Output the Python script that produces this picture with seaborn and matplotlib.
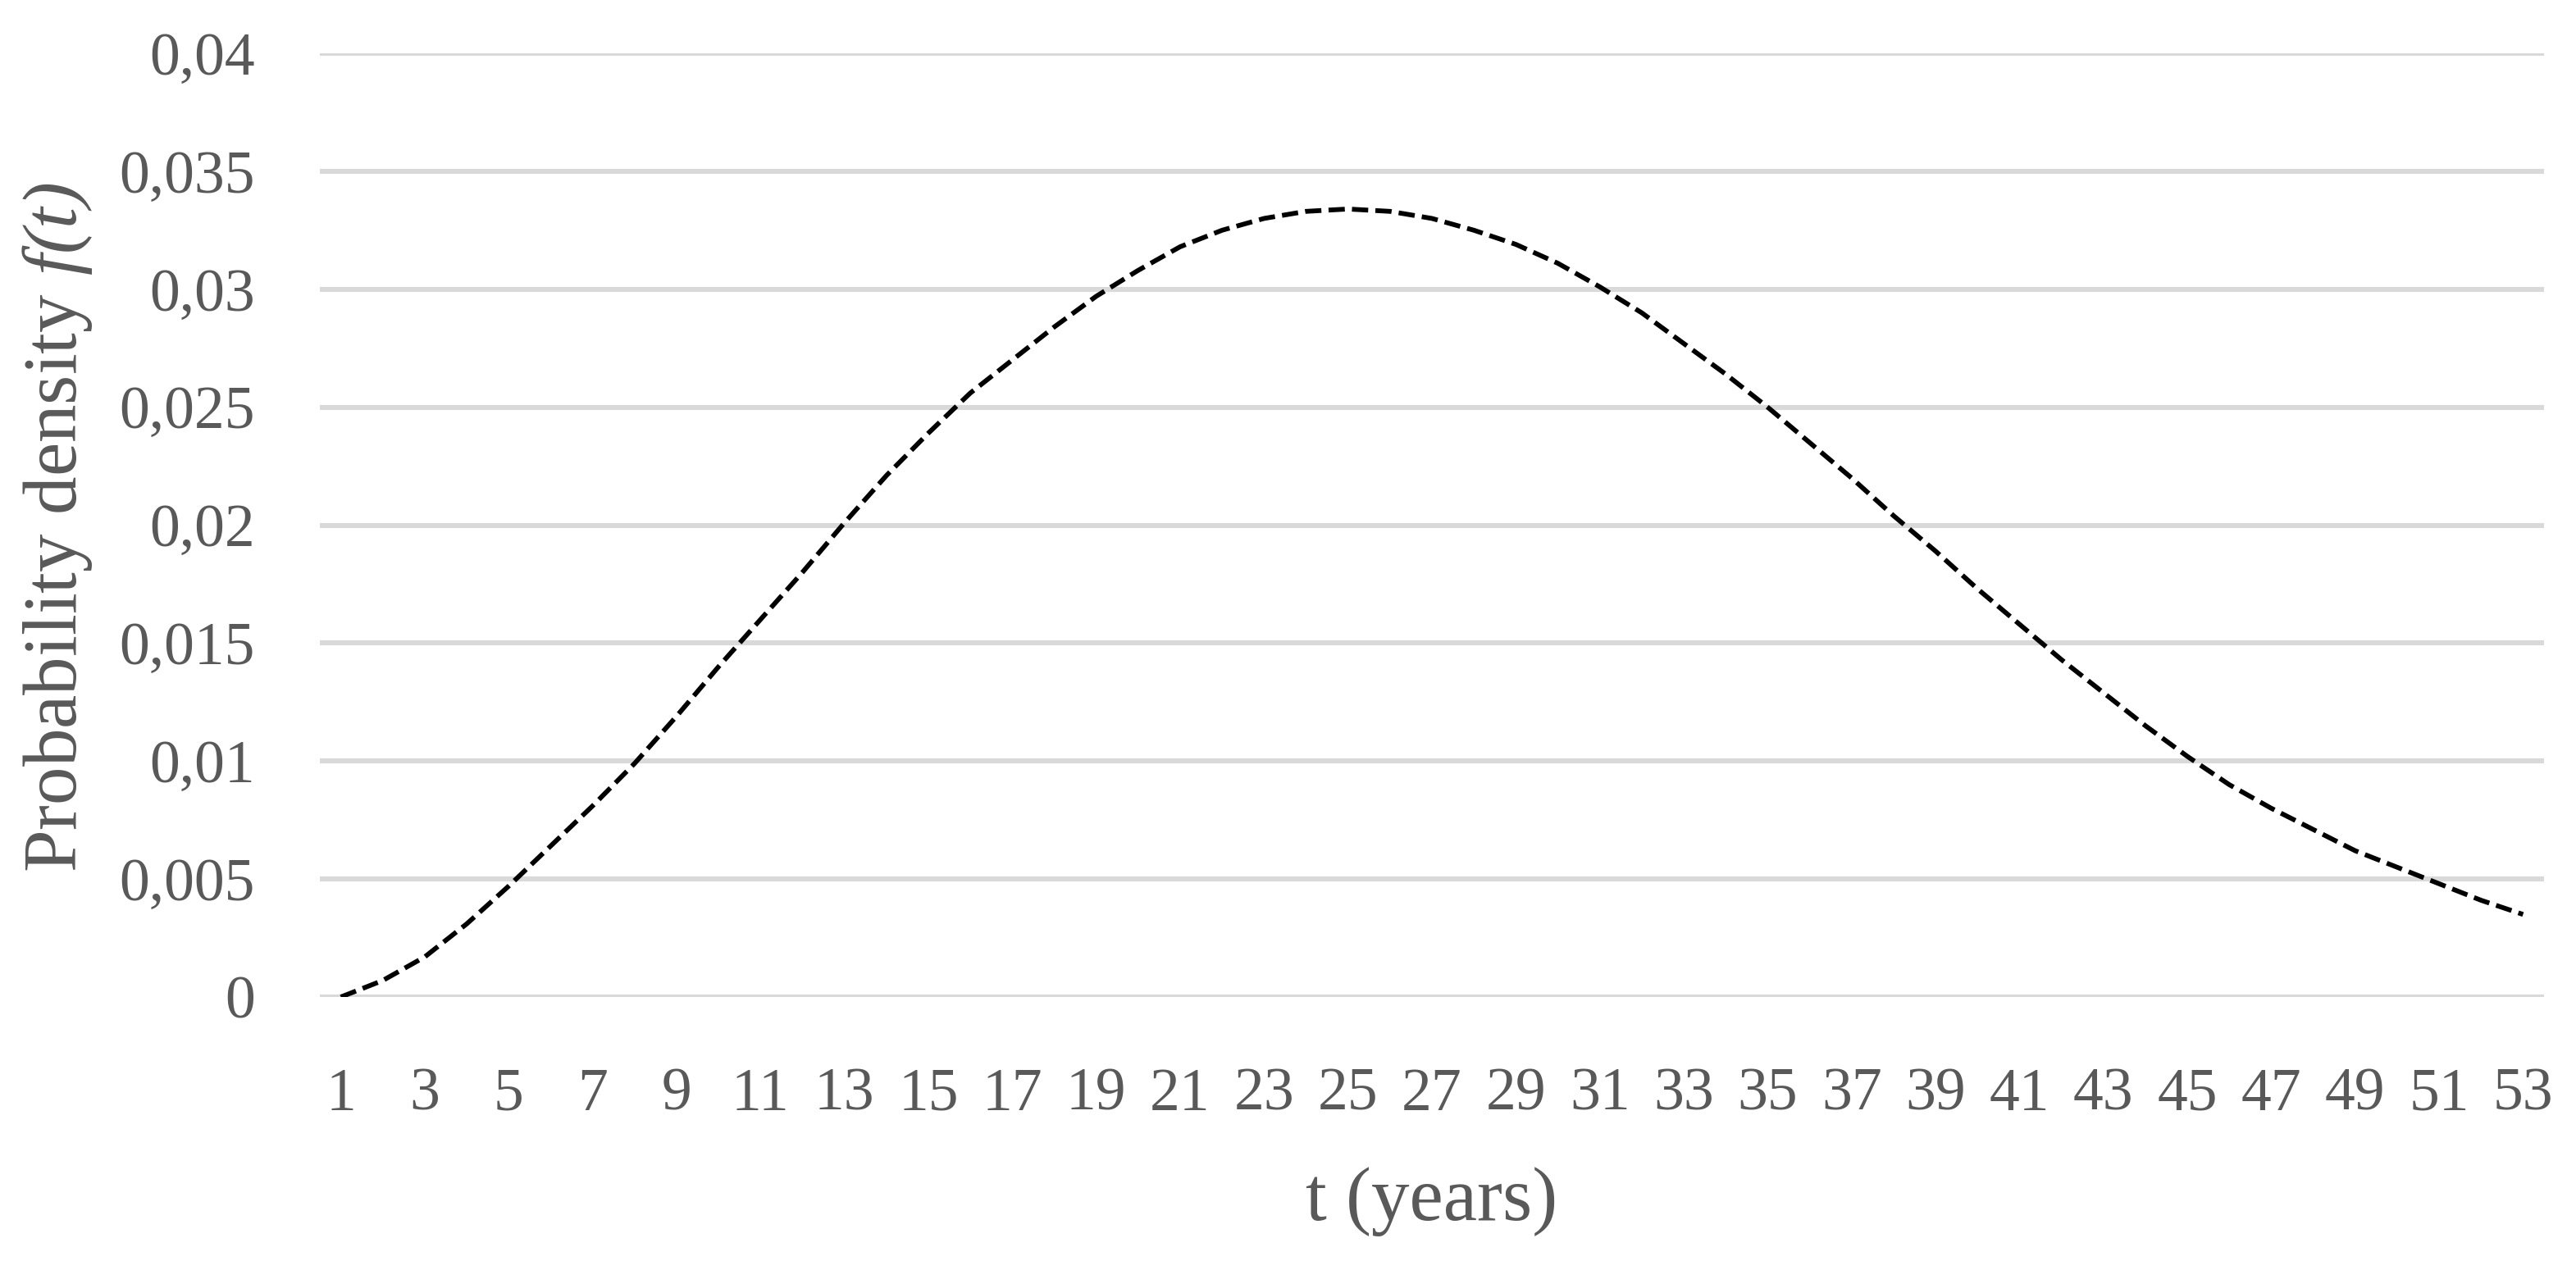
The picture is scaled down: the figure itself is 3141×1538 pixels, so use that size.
import matplotlib
matplotlib.use("Agg")
import matplotlib.pyplot as plt
import seaborn as sns
import pandas as pd
from matplotlib.ticker import FuncFormatter, FixedLocator

t_years = list(range(1, 54))
density = [
    0.0000, 0.0007, 0.0017, 0.0031, 0.0047, 0.0064, 0.0081, 0.0099, 0.0119, 0.0140,
    0.0160, 0.0180, 0.0201, 0.0221, 0.0239, 0.0256, 0.0270, 0.0284, 0.0297, 0.0308,
    0.0318, 0.0325, 0.0330, 0.0333, 0.0334, 0.0333, 0.0330, 0.0325, 0.0319, 0.0311,
    0.0301, 0.0290, 0.0277, 0.0264, 0.0250, 0.0235, 0.0220, 0.0204, 0.0189, 0.0173,
    0.0158, 0.0143, 0.0129, 0.0115, 0.0102, 0.0090, 0.0080, 0.0071, 0.0062, 0.0055,
    0.0048, 0.0041, 0.0035,
]
y_ticks = [0, 0.005, 0.01, 0.015, 0.02, 0.025, 0.03, 0.035, 0.04]
x_tick_labels = list(range(1, 54, 2))

df = pd.DataFrame({"t": t_years, "f": density})

sns.set_theme(style="white")
plt.rcParams["font.family"] = ["Liberation Serif", "DejaVu Serif"]
plt.rcParams["mathtext.fontset"] = "custom"
plt.rcParams["mathtext.it"] = "Liberation Serif:italic"
plt.rcParams["mathtext.rm"] = "Liberation Serif:italic"

grey = "#595959"
W, H = 3141, 1538
left, right, top, bottom = 390, 3102, 65, 1216
fig = plt.figure(figsize=(W / 100, H / 100), dpi=100)
ax = fig.add_axes([left / W, 1 - bottom / H, (right - left) / W, (bottom - top) / H])

sns.lineplot(data=df, x="t", y="f", ax=ax, color="black", linewidth=4.2)
ax.lines[0].set_linestyle((0, (3.4, 1.5)))

ax.set_xlim(0.5, 53.5)
ax.set_ylim(0, 0.04)
ax.yaxis.set_major_locator(FixedLocator(y_ticks))
ax.xaxis.set_major_locator(FixedLocator(x_tick_labels))
ax.yaxis.set_major_formatter(FuncFormatter(
    lambda v, p: "0" if abs(v) < 1e-12 else (f"{v:.3f}".rstrip("0")).replace(".", ",")))
ax.xaxis.set_major_formatter(FuncFormatter(lambda v, p: f"{int(v)}"))

ax.grid(axis="y", color="#d9d9d9", linewidth=4.4)
ax.grid(axis="x", visible=False)
ax.set_axisbelow(True)
for s in ax.spines.values():
    s.set_visible(False)
ax.tick_params(axis="both", length=0, labelsize=53, colors=grey)
ax.tick_params(axis="y", pad=57)
ax.tick_params(axis="x", pad=62)

ax.set_xlabel("t (years)", fontsize=67, color=grey)
ax.xaxis.label.set_va("center")
ax.xaxis.set_label_coords(0.5, -(1466 - bottom) / (bottom - top))
ax.set_ylabel(r"Probability density $f(t)$", fontsize=67, color=grey)
ax.yaxis.label.set_va("center")
ax.yaxis.label.set_ha("center")
ax.yaxis.set_label_coords(-(left - 70) / (right - left), (bottom - 643) / (bottom - top))

fig.savefig("out.png", dpi=100)
